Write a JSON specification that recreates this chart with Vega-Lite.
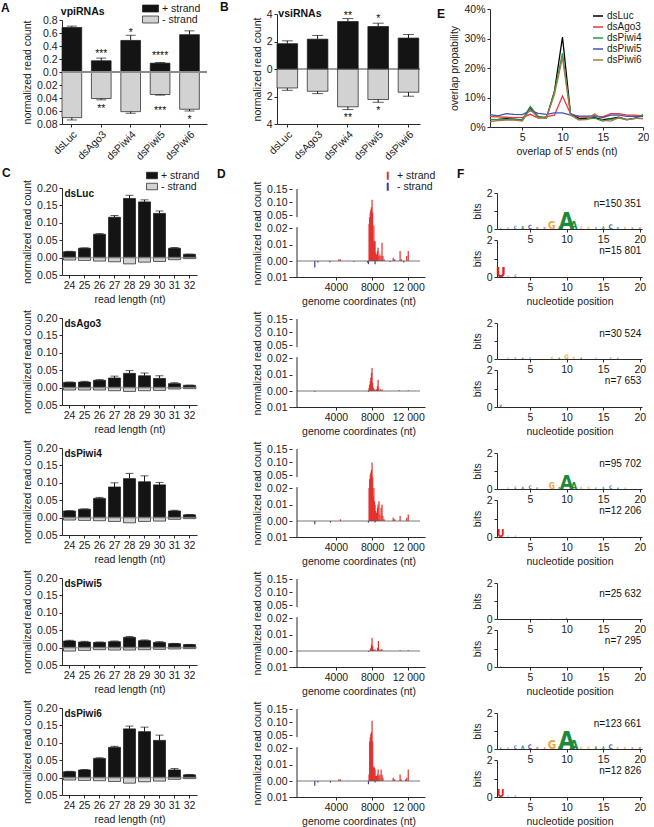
{
"$schema": "https://vega.github.io/schema/vega-lite/v6.json",
"padding": {"left": 1, "top": 1, "right": 0, "bottom": 0},
"background": "white",
"columns": 3,
"align": "each",
"bounds": "flush",
"spacing": {"row": 41, "column": 70},
"resolve": {"scale": {"color": "independent", "size": "independent"}, "legend": {"color": "independent", "size": "independent"}},
"datasets": {
"vpi": [
{"k":"dsLuc","s":"+ strand","v":0.685,"e":0.706},
{"k":"dsAgo3","s":"+ strand","v":0.173,"e":0.214},
{"k":"dsPiwi4","s":"+ strand","v":0.486,"e":0.565},
{"k":"dsPiwi5","s":"+ strand","v":0.136,"e":0.146},
{"k":"dsPiwi6","s":"+ strand","v":0.575,"e":0.633},
{"k":"dsLuc","s":"- strand","v":-0.0702,"e":-0.0738},
{"k":"dsAgo3","s":"- strand","v":-0.0408,"e":-0.0428},
{"k":"dsPiwi4","s":"- strand","v":-0.061,"e":-0.0635},
{"k":"dsPiwi5","s":"- strand","v":-0.0346,"e":-0.0356},
{"k":"dsPiwi6","s":"- strand","v":-0.0573,"e":-0.06}
],
"vpiStars": [
{"k":"dsAgo3","t":"***","y":0.33},
{"k":"dsPiwi4","t":"*","y":0.65},
{"k":"dsPiwi5","t":"****","y":0.30},
{"k":"dsAgo3","t":"**","y":-0.053},
{"k":"dsPiwi5","t":"***","y":-0.056},
{"k":"dsPiwi6","t":"*","y":-0.069}
],
"vsi": [
{"k":"dsLuc","s":"+ strand","v":1.84,"e":2.05},
{"k":"dsAgo3","s":"+ strand","v":2.17,"e":2.44},
{"k":"dsPiwi4","s":"+ strand","v":3.45,"e":3.67},
{"k":"dsPiwi5","s":"+ strand","v":3.09,"e":3.33},
{"k":"dsPiwi6","s":"+ strand","v":2.25,"e":2.51},
{"k":"dsLuc","s":"- strand","v":-1.38,"e":-1.55},
{"k":"dsAgo3","s":"- strand","v":-1.62,"e":-1.79},
{"k":"dsPiwi4","s":"- strand","v":-2.75,"e":-2.95},
{"k":"dsPiwi5","s":"- strand","v":-2.22,"e":-2.42},
{"k":"dsPiwi6","s":"- strand","v":-1.69,"e":-1.98}
],
"vsiStars": [
{"k":"dsPiwi4","t":"**","y":4.06},
{"k":"dsPiwi5","t":"*","y":3.82},
{"k":"dsPiwi4","t":"**","y":-3.31},
{"k":"dsPiwi5","t":"*","y":-2.83}
],
"ov": [
{"k":"dsLuc","x":1,"p":0.025},{"k":"dsLuc","x":2,"p":0.026},{"k":"dsLuc","x":3,"p":0.028},{"k":"dsLuc","x":4,"p":0.027},{"k":"dsLuc","x":5,"p":0.023},{"k":"dsLuc","x":6,"p":0.065},{"k":"dsLuc","x":7,"p":0.035},{"k":"dsLuc","x":8,"p":0.03},{"k":"dsLuc","x":9,"p":0.12},{"k":"dsLuc","x":10,"p":0.305},{"k":"dsLuc","x":11,"p":0.045},{"k":"dsLuc","x":12,"p":0.03},{"k":"dsLuc","x":13,"p":0.028},{"k":"dsLuc","x":14,"p":0.032},{"k":"dsLuc","x":15,"p":0.025},{"k":"dsLuc","x":16,"p":0.028},{"k":"dsLuc","x":17,"p":0.033},{"k":"dsLuc","x":18,"p":0.025},{"k":"dsLuc","x":19,"p":0.03},{"k":"dsLuc","x":20,"p":0.04},
{"k":"dsAgo3","x":1,"p":0.035},{"k":"dsAgo3","x":2,"p":0.034},{"k":"dsAgo3","x":3,"p":0.033},{"k":"dsAgo3","x":4,"p":0.032},{"k":"dsAgo3","x":5,"p":0.032},{"k":"dsAgo3","x":6,"p":0.043},{"k":"dsAgo3","x":7,"p":0.03},{"k":"dsAgo3","x":8,"p":0.035},{"k":"dsAgo3","x":9,"p":0.04},{"k":"dsAgo3","x":10,"p":0.105},{"k":"dsAgo3","x":11,"p":0.045},{"k":"dsAgo3","x":12,"p":0.035},{"k":"dsAgo3","x":13,"p":0.033},{"k":"dsAgo3","x":14,"p":0.038},{"k":"dsAgo3","x":15,"p":0.034},{"k":"dsAgo3","x":16,"p":0.045},{"k":"dsAgo3","x":17,"p":0.045},{"k":"dsAgo3","x":18,"p":0.04},{"k":"dsAgo3","x":19,"p":0.04},{"k":"dsAgo3","x":20,"p":0.038},
{"k":"dsPiwi4","x":1,"p":0.026},{"k":"dsPiwi4","x":2,"p":0.025},{"k":"dsPiwi4","x":3,"p":0.026},{"k":"dsPiwi4","x":4,"p":0.025},{"k":"dsPiwi4","x":5,"p":0.024},{"k":"dsPiwi4","x":6,"p":0.07},{"k":"dsPiwi4","x":7,"p":0.035},{"k":"dsPiwi4","x":8,"p":0.03},{"k":"dsPiwi4","x":9,"p":0.12},{"k":"dsPiwi4","x":10,"p":0.25},{"k":"dsPiwi4","x":11,"p":0.045},{"k":"dsPiwi4","x":12,"p":0.025},{"k":"dsPiwi4","x":13,"p":0.027},{"k":"dsPiwi4","x":14,"p":0.03},{"k":"dsPiwi4","x":15,"p":0.02},{"k":"dsPiwi4","x":16,"p":0.026},{"k":"dsPiwi4","x":17,"p":0.03},{"k":"dsPiwi4","x":18,"p":0.025},{"k":"dsPiwi4","x":19,"p":0.028},{"k":"dsPiwi4","x":20,"p":0.042},
{"k":"dsPiwi5","x":1,"p":0.042},{"k":"dsPiwi5","x":2,"p":0.038},{"k":"dsPiwi5","x":3,"p":0.045},{"k":"dsPiwi5","x":4,"p":0.043},{"k":"dsPiwi5","x":5,"p":0.042},{"k":"dsPiwi5","x":6,"p":0.055},{"k":"dsPiwi5","x":7,"p":0.046},{"k":"dsPiwi5","x":8,"p":0.043},{"k":"dsPiwi5","x":9,"p":0.048},{"k":"dsPiwi5","x":10,"p":0.048},{"k":"dsPiwi5","x":11,"p":0.04},{"k":"dsPiwi5","x":12,"p":0.038},{"k":"dsPiwi5","x":13,"p":0.037},{"k":"dsPiwi5","x":14,"p":0.038},{"k":"dsPiwi5","x":15,"p":0.032},{"k":"dsPiwi5","x":16,"p":0.04},{"k":"dsPiwi5","x":17,"p":0.04},{"k":"dsPiwi5","x":18,"p":0.036},{"k":"dsPiwi5","x":19,"p":0.036},{"k":"dsPiwi5","x":20,"p":0.035},
{"k":"dsPiwi6","x":1,"p":0.018},{"k":"dsPiwi6","x":2,"p":0.022},{"k":"dsPiwi6","x":3,"p":0.023},{"k":"dsPiwi6","x":4,"p":0.023},{"k":"dsPiwi6","x":5,"p":0.02},{"k":"dsPiwi6","x":6,"p":0.06},{"k":"dsPiwi6","x":7,"p":0.03},{"k":"dsPiwi6","x":8,"p":0.03},{"k":"dsPiwi6","x":9,"p":0.11},{"k":"dsPiwi6","x":10,"p":0.235},{"k":"dsPiwi6","x":11,"p":0.04},{"k":"dsPiwi6","x":12,"p":0.024},{"k":"dsPiwi6","x":13,"p":0.025},{"k":"dsPiwi6","x":14,"p":0.045},{"k":"dsPiwi6","x":15,"p":0.023},{"k":"dsPiwi6","x":16,"p":0.02},{"k":"dsPiwi6","x":17,"p":0.032},{"k":"dsPiwi6","x":18,"p":0.024},{"k":"dsPiwi6","x":19,"p":0.03},{"k":"dsPiwi6","x":20,"p":0.028}
],
"len": [
{"k":"dsLuc","l":24,"s":"+ strand","v":0.017,"e":0.018},{"k":"dsLuc","l":25,"s":"+ strand","v":0.027,"e":0.028},{"k":"dsLuc","l":26,"s":"+ strand","v":0.067,"e":0.069},{"k":"dsLuc","l":27,"s":"+ strand","v":0.116,"e":0.121},{"k":"dsLuc","l":28,"s":"+ strand","v":0.17,"e":0.179},{"k":"dsLuc","l":29,"s":"+ strand","v":0.16,"e":0.166},{"k":"dsLuc","l":30,"s":"+ strand","v":0.127,"e":0.134},{"k":"dsLuc","l":31,"s":"+ strand","v":0.027,"e":0.029},{"k":"dsLuc","l":32,"s":"+ strand","v":0.0095,"e":0.01},
{"k":"dsLuc","l":24,"s":"- strand","v":-0.007,"e":-0.007},{"k":"dsLuc","l":25,"s":"- strand","v":-0.008,"e":-0.008},{"k":"dsLuc","l":26,"s":"- strand","v":-0.01,"e":-0.01},{"k":"dsLuc","l":27,"s":"- strand","v":-0.012,"e":-0.012},{"k":"dsLuc","l":28,"s":"- strand","v":-0.018,"e":-0.018},{"k":"dsLuc","l":29,"s":"- strand","v":-0.013,"e":-0.013},{"k":"dsLuc","l":30,"s":"- strand","v":-0.011,"e":-0.011},{"k":"dsLuc","l":31,"s":"- strand","v":-0.006,"e":-0.006},{"k":"dsLuc","l":32,"s":"- strand","v":-0.003,"e":-0.003},
{"k":"dsAgo3","l":24,"s":"+ strand","v":0.015,"e":0.016},{"k":"dsAgo3","l":25,"s":"+ strand","v":0.016,"e":0.018},{"k":"dsAgo3","l":26,"s":"+ strand","v":0.021,"e":0.023},{"k":"dsAgo3","l":27,"s":"+ strand","v":0.0275,"e":0.033},{"k":"dsAgo3","l":28,"s":"+ strand","v":0.041,"e":0.049},{"k":"dsAgo3","l":29,"s":"+ strand","v":0.034,"e":0.042},{"k":"dsAgo3","l":30,"s":"+ strand","v":0.0265,"e":0.034},{"k":"dsAgo3","l":31,"s":"+ strand","v":0.0114,"e":0.014},{"k":"dsAgo3","l":32,"s":"+ strand","v":0.0066,"e":0.007},
{"k":"dsAgo3","l":24,"s":"- strand","v":-0.007,"e":-0.007},{"k":"dsAgo3","l":25,"s":"- strand","v":-0.007,"e":-0.007},{"k":"dsAgo3","l":26,"s":"- strand","v":-0.007,"e":-0.007},{"k":"dsAgo3","l":27,"s":"- strand","v":-0.009,"e":-0.009},{"k":"dsAgo3","l":28,"s":"- strand","v":-0.011,"e":-0.011},{"k":"dsAgo3","l":29,"s":"- strand","v":-0.009,"e":-0.009},{"k":"dsAgo3","l":30,"s":"- strand","v":-0.008,"e":-0.008},{"k":"dsAgo3","l":31,"s":"- strand","v":-0.004,"e":-0.004},{"k":"dsAgo3","l":32,"s":"- strand","v":-0.003,"e":-0.003},
{"k":"dsPiwi4","l":24,"s":"+ strand","v":0.019,"e":0.02},{"k":"dsPiwi4","l":25,"s":"+ strand","v":0.024,"e":0.025},{"k":"dsPiwi4","l":26,"s":"+ strand","v":0.055,"e":0.058},{"k":"dsPiwi4","l":27,"s":"+ strand","v":0.088,"e":0.1},{"k":"dsPiwi4","l":28,"s":"+ strand","v":0.112,"e":0.127},{"k":"dsPiwi4","l":29,"s":"+ strand","v":0.103,"e":0.12},{"k":"dsPiwi4","l":30,"s":"+ strand","v":0.094,"e":0.101},{"k":"dsPiwi4","l":31,"s":"+ strand","v":0.019,"e":0.021},{"k":"dsPiwi4","l":32,"s":"+ strand","v":0.008,"e":0.009},
{"k":"dsPiwi4","l":24,"s":"- strand","v":-0.007,"e":-0.007},{"k":"dsPiwi4","l":25,"s":"- strand","v":-0.008,"e":-0.008},{"k":"dsPiwi4","l":26,"s":"- strand","v":-0.009,"e":-0.009},{"k":"dsPiwi4","l":27,"s":"- strand","v":-0.011,"e":-0.011},{"k":"dsPiwi4","l":28,"s":"- strand","v":-0.015,"e":-0.015},{"k":"dsPiwi4","l":29,"s":"- strand","v":-0.011,"e":-0.011},{"k":"dsPiwi4","l":30,"s":"- strand","v":-0.01,"e":-0.01},{"k":"dsPiwi4","l":31,"s":"- strand","v":-0.005,"e":-0.005},{"k":"dsPiwi4","l":32,"s":"- strand","v":-0.003,"e":-0.003},
{"k":"dsPiwi5","l":24,"s":"+ strand","v":0.019,"e":0.021},{"k":"dsPiwi5","l":25,"s":"+ strand","v":0.016,"e":0.018},{"k":"dsPiwi5","l":26,"s":"+ strand","v":0.015,"e":0.016},{"k":"dsPiwi5","l":27,"s":"+ strand","v":0.017,"e":0.019},{"k":"dsPiwi5","l":28,"s":"+ strand","v":0.0295,"e":0.032},{"k":"dsPiwi5","l":29,"s":"+ strand","v":0.02,"e":0.022},{"k":"dsPiwi5","l":30,"s":"+ strand","v":0.015,"e":0.017},{"k":"dsPiwi5","l":31,"s":"+ strand","v":0.0114,"e":0.012},{"k":"dsPiwi5","l":32,"s":"+ strand","v":0.0086,"e":0.009},
{"k":"dsPiwi5","l":24,"s":"- strand","v":-0.01,"e":-0.01},{"k":"dsPiwi5","l":25,"s":"- strand","v":-0.008,"e":-0.008},{"k":"dsPiwi5","l":26,"s":"- strand","v":-0.006,"e":-0.006},{"k":"dsPiwi5","l":27,"s":"- strand","v":-0.007,"e":-0.007},{"k":"dsPiwi5","l":28,"s":"- strand","v":-0.007,"e":-0.007},{"k":"dsPiwi5","l":29,"s":"- strand","v":-0.006,"e":-0.006},{"k":"dsPiwi5","l":30,"s":"- strand","v":-0.005,"e":-0.005},{"k":"dsPiwi5","l":31,"s":"- strand","v":-0.004,"e":-0.004},{"k":"dsPiwi5","l":32,"s":"- strand","v":-0.003,"e":-0.003},
{"k":"dsPiwi6","l":24,"s":"+ strand","v":0.017,"e":0.018},{"k":"dsPiwi6","l":25,"s":"+ strand","v":0.022,"e":0.023},{"k":"dsPiwi6","l":26,"s":"+ strand","v":0.055,"e":0.057},{"k":"dsPiwi6","l":27,"s":"+ strand","v":0.087,"e":0.09},{"k":"dsPiwi6","l":28,"s":"+ strand","v":0.14,"e":0.148},{"k":"dsPiwi6","l":29,"s":"+ strand","v":0.132,"e":0.145},{"k":"dsPiwi6","l":30,"s":"+ strand","v":0.107,"e":0.122},{"k":"dsPiwi6","l":31,"s":"+ strand","v":0.022,"e":0.026},{"k":"dsPiwi6","l":32,"s":"+ strand","v":0.008,"e":0.009},
{"k":"dsPiwi6","l":24,"s":"- strand","v":-0.007,"e":-0.007},{"k":"dsPiwi6","l":25,"s":"- strand","v":-0.008,"e":-0.008},{"k":"dsPiwi6","l":26,"s":"- strand","v":-0.009,"e":-0.009},{"k":"dsPiwi6","l":27,"s":"- strand","v":-0.011,"e":-0.011},{"k":"dsPiwi6","l":28,"s":"- strand","v":-0.016,"e":-0.016},{"k":"dsPiwi6","l":29,"s":"- strand","v":-0.012,"e":-0.012},{"k":"dsPiwi6","l":30,"s":"- strand","v":-0.01,"e":-0.01},{"k":"dsPiwi6","l":31,"s":"- strand","v":-0.005,"e":-0.005},{"k":"dsPiwi6","l":32,"s":"- strand","v":-0.003,"e":-0.003}
],
"cov": [
{"k":"dsLuc","g":4333,"s":"+ strand","v":0.001},{"k":"dsLuc","g":4500,"s":"+ strand","v":0.001},{"k":"dsLuc","g":7667,"s":"+ strand","v":0.03},{"k":"dsLuc","g":7733,"s":"+ strand","v":0.045},{"k":"dsLuc","g":7800,"s":"+ strand","v":0.06},{"k":"dsLuc","g":7867,"s":"+ strand","v":0.07},{"k":"dsLuc","g":7933,"s":"+ strand","v":0.08},{"k":"dsLuc","g":8000,"s":"+ strand","v":0.109},{"k":"dsLuc","g":8067,"s":"+ strand","v":0.06},{"k":"dsLuc","g":8133,"s":"+ strand","v":0.012},{"k":"dsLuc","g":8200,"s":"+ strand","v":0.025},{"k":"dsLuc","g":8267,"s":"+ strand","v":0.012},{"k":"dsLuc","g":8333,"s":"+ strand","v":0.012},{"k":"dsLuc","g":8400,"s":"+ strand","v":0.005},{"k":"dsLuc","g":8500,"s":"+ strand","v":0.004},{"k":"dsLuc","g":8600,"s":"+ strand","v":0.006},{"k":"dsLuc","g":8667,"s":"+ strand","v":0.008},{"k":"dsLuc","g":8767,"s":"+ strand","v":0.003},{"k":"dsLuc","g":8867,"s":"+ strand","v":0.004},{"k":"dsLuc","g":9000,"s":"+ strand","v":0.003},{"k":"dsLuc","g":9100,"s":"+ strand","v":0.011},{"k":"dsLuc","g":9200,"s":"+ strand","v":0.003},{"k":"dsLuc","g":9333,"s":"+ strand","v":0.001},{"k":"dsLuc","g":10333,"s":"+ strand","v":0.002},{"k":"dsLuc","g":10500,"s":"+ strand","v":0.001},{"k":"dsLuc","g":11100,"s":"+ strand","v":0.006},{"k":"dsLuc","g":11233,"s":"+ strand","v":0.001},{"k":"dsLuc","g":11833,"s":"+ strand","v":0.003},{"k":"dsLuc","g":12000,"s":"+ strand","v":0.006},
{"k":"dsLuc","g":1667,"s":"- strand","v":-0.004},{"k":"dsLuc","g":2000,"s":"- strand","v":-0.001},{"k":"dsLuc","g":3333,"s":"- strand","v":-0.0008},{"k":"dsLuc","g":6000,"s":"- strand","v":-0.0005},{"k":"dsLuc","g":7500,"s":"- strand","v":-0.001},{"k":"dsLuc","g":7600,"s":"- strand","v":-0.002},{"k":"dsLuc","g":8333,"s":"- strand","v":-0.002},{"k":"dsLuc","g":10000,"s":"- strand","v":-0.0007},{"k":"dsLuc","g":11500,"s":"- strand","v":-0.001},
{"k":"dsAgo3","g":7667,"s":"+ strand","v":0.002},{"k":"dsAgo3","g":7733,"s":"+ strand","v":0.004},{"k":"dsAgo3","g":7800,"s":"+ strand","v":0.006},{"k":"dsAgo3","g":7867,"s":"+ strand","v":0.008},{"k":"dsAgo3","g":7933,"s":"+ strand","v":0.011},{"k":"dsAgo3","g":8000,"s":"+ strand","v":0.014},{"k":"dsAgo3","g":8067,"s":"+ strand","v":0.005},{"k":"dsAgo3","g":8133,"s":"+ strand","v":0.002},{"k":"dsAgo3","g":8200,"s":"+ strand","v":0.001},{"k":"dsAgo3","g":8333,"s":"+ strand","v":0.001},{"k":"dsAgo3","g":8500,"s":"+ strand","v":0.001},{"k":"dsAgo3","g":8600,"s":"+ strand","v":0.003},{"k":"dsAgo3","g":8667,"s":"+ strand","v":0.0068},{"k":"dsAgo3","g":8733,"s":"+ strand","v":0.002},{"k":"dsAgo3","g":8900,"s":"+ strand","v":0.001},{"k":"dsAgo3","g":9100,"s":"+ strand","v":0.001},{"k":"dsAgo3","g":11000,"s":"+ strand","v":0.0005},{"k":"dsAgo3","g":12000,"s":"+ strand","v":0.0005},
{"k":"dsAgo3","g":1667,"s":"- strand","v":-0.0005},{"k":"dsAgo3","g":7600,"s":"- strand","v":-0.0005},
{"k":"dsPiwi4","g":4500,"s":"+ strand","v":0.001},{"k":"dsPiwi4","g":7667,"s":"+ strand","v":0.02},{"k":"dsPiwi4","g":7733,"s":"+ strand","v":0.04},{"k":"dsPiwi4","g":7800,"s":"+ strand","v":0.05},{"k":"dsPiwi4","g":7867,"s":"+ strand","v":0.06},{"k":"dsPiwi4","g":7933,"s":"+ strand","v":0.07},{"k":"dsPiwi4","g":8000,"s":"+ strand","v":0.098},{"k":"dsPiwi4","g":8067,"s":"+ strand","v":0.045},{"k":"dsPiwi4","g":8133,"s":"+ strand","v":0.015},{"k":"dsPiwi4","g":8200,"s":"+ strand","v":0.02},{"k":"dsPiwi4","g":8267,"s":"+ strand","v":0.012},{"k":"dsPiwi4","g":8333,"s":"+ strand","v":0.01},{"k":"dsPiwi4","g":8400,"s":"+ strand","v":0.006},{"k":"dsPiwi4","g":8500,"s":"+ strand","v":0.005},{"k":"dsPiwi4","g":8600,"s":"+ strand","v":0.008},{"k":"dsPiwi4","g":8667,"s":"+ strand","v":0.01},{"k":"dsPiwi4","g":8767,"s":"+ strand","v":0.012},{"k":"dsPiwi4","g":8867,"s":"+ strand","v":0.004},{"k":"dsPiwi4","g":9000,"s":"+ strand","v":0.008},{"k":"dsPiwi4","g":9100,"s":"+ strand","v":0.01},{"k":"dsPiwi4","g":9200,"s":"+ strand","v":0.003},{"k":"dsPiwi4","g":9333,"s":"+ strand","v":0.001},{"k":"dsPiwi4","g":10333,"s":"+ strand","v":0.002},{"k":"dsPiwi4","g":10500,"s":"+ strand","v":0.001},{"k":"dsPiwi4","g":11100,"s":"+ strand","v":0.003},{"k":"dsPiwi4","g":11833,"s":"+ strand","v":0.002},{"k":"dsPiwi4","g":12000,"s":"+ strand","v":0.004},
{"k":"dsPiwi4","g":1667,"s":"- strand","v":-0.002},{"k":"dsPiwi4","g":3400,"s":"- strand","v":-0.001},{"k":"dsPiwi4","g":7600,"s":"- strand","v":-0.001},{"k":"dsPiwi4","g":8333,"s":"- strand","v":-0.001},
{"k":"dsPiwi5","g":7800,"s":"+ strand","v":0.001},{"k":"dsPiwi5","g":7867,"s":"+ strand","v":0.002},{"k":"dsPiwi5","g":7933,"s":"+ strand","v":0.004},{"k":"dsPiwi5","g":8000,"s":"+ strand","v":0.008},{"k":"dsPiwi5","g":8067,"s":"+ strand","v":0.003},{"k":"dsPiwi5","g":8133,"s":"+ strand","v":0.001},{"k":"dsPiwi5","g":8333,"s":"+ strand","v":0.001},{"k":"dsPiwi5","g":8600,"s":"+ strand","v":0.002},{"k":"dsPiwi5","g":8700,"s":"+ strand","v":0.006},{"k":"dsPiwi5","g":8767,"s":"+ strand","v":0.001},{"k":"dsPiwi5","g":9000,"s":"+ strand","v":0.001},{"k":"dsPiwi5","g":9100,"s":"+ strand","v":0.001},{"k":"dsPiwi5","g":11100,"s":"+ strand","v":0.0005},{"k":"dsPiwi5","g":12000,"s":"+ strand","v":0.0005},
{"k":"dsPiwi5","g":7600,"s":"- strand","v":-0.0005},
{"k":"dsPiwi6","g":4333,"s":"+ strand","v":0.001},{"k":"dsPiwi6","g":4500,"s":"+ strand","v":0.001},{"k":"dsPiwi6","g":7667,"s":"+ strand","v":0.004},{"k":"dsPiwi6","g":7733,"s":"+ strand","v":0.035},{"k":"dsPiwi6","g":7800,"s":"+ strand","v":0.045},{"k":"dsPiwi6","g":7867,"s":"+ strand","v":0.055},{"k":"dsPiwi6","g":7933,"s":"+ strand","v":0.06},{"k":"dsPiwi6","g":8000,"s":"+ strand","v":0.105},{"k":"dsPiwi6","g":8067,"s":"+ strand","v":0.035},{"k":"dsPiwi6","g":8133,"s":"+ strand","v":0.008},{"k":"dsPiwi6","g":8200,"s":"+ strand","v":0.009},{"k":"dsPiwi6","g":8267,"s":"+ strand","v":0.008},{"k":"dsPiwi6","g":8333,"s":"+ strand","v":0.007},{"k":"dsPiwi6","g":8400,"s":"+ strand","v":0.003},{"k":"dsPiwi6","g":8500,"s":"+ strand","v":0.003},{"k":"dsPiwi6","g":8600,"s":"+ strand","v":0.004},{"k":"dsPiwi6","g":8667,"s":"+ strand","v":0.007},{"k":"dsPiwi6","g":8767,"s":"+ strand","v":0.003},{"k":"dsPiwi6","g":8867,"s":"+ strand","v":0.004},{"k":"dsPiwi6","g":9000,"s":"+ strand","v":0.007},{"k":"dsPiwi6","g":9100,"s":"+ strand","v":0.004},{"k":"dsPiwi6","g":9200,"s":"+ strand","v":0.002},{"k":"dsPiwi6","g":10333,"s":"+ strand","v":0.002},{"k":"dsPiwi6","g":10500,"s":"+ strand","v":0.001},{"k":"dsPiwi6","g":11100,"s":"+ strand","v":0.004},{"k":"dsPiwi6","g":11200,"s":"+ strand","v":0.001},{"k":"dsPiwi6","g":11700,"s":"+ strand","v":0.001},{"k":"dsPiwi6","g":11833,"s":"+ strand","v":0.002},{"k":"dsPiwi6","g":12000,"s":"+ strand","v":0.007},
{"k":"dsPiwi6","g":1667,"s":"- strand","v":-0.003},{"k":"dsPiwi6","g":2000,"s":"- strand","v":-0.001},{"k":"dsPiwi6","g":3400,"s":"- strand","v":-0.001},{"k":"dsPiwi6","g":7600,"s":"- strand","v":-0.002},{"k":"dsPiwi6","g":8333,"s":"- strand","v":-0.001}
],
"logo": [
{"k":"dsLuc","p":"top","x":1,"nt":"U","b":0.03},{"k":"dsLuc","p":"top","x":2,"nt":"C","b":0.04},{"k":"dsLuc","p":"top","x":3,"nt":"C","b":0.09},{"k":"dsLuc","p":"top","x":4,"nt":"A","b":0.08},{"k":"dsLuc","p":"top","x":5,"nt":"C","b":0.13},{"k":"dsLuc","p":"top","x":6,"nt":"U","b":0.05},{"k":"dsLuc","p":"top","x":7,"nt":"U","b":0.05},{"k":"dsLuc","p":"top","x":8,"nt":"G","b":0.3},{"k":"dsLuc","p":"top","x":9,"nt":"A","b":0.07},{"k":"dsLuc","p":"top","x":10,"nt":"A","b":0.9},{"k":"dsLuc","p":"top","x":11,"nt":"A","b":0.3},{"k":"dsLuc","p":"top","x":12,"nt":"G","b":0.06},{"k":"dsLuc","p":"top","x":13,"nt":"G","b":0.06},{"k":"dsLuc","p":"top","x":14,"nt":"C","b":0.05},{"k":"dsLuc","p":"top","x":15,"nt":"A","b":0.07},{"k":"dsLuc","p":"top","x":16,"nt":"C","b":0.15},{"k":"dsLuc","p":"top","x":17,"nt":"A","b":0.05},{"k":"dsLuc","p":"top","x":18,"nt":"G","b":0.05},{"k":"dsLuc","p":"top","x":19,"nt":"U","b":0.04},{"k":"dsLuc","p":"top","x":20,"nt":"U","b":0.04},
{"k":"dsLuc","p":"bot","x":1,"nt":"U","b":0.45},{"k":"dsLuc","p":"bot","x":2,"nt":"G","b":0.04},{"k":"dsLuc","p":"bot","x":3,"nt":"C","b":0.06},
{"k":"dsAgo3","p":"top","x":2,"nt":"C","b":0.03},{"k":"dsAgo3","p":"top","x":3,"nt":"C","b":0.04},{"k":"dsAgo3","p":"top","x":4,"nt":"A","b":0.04},{"k":"dsAgo3","p":"top","x":5,"nt":"C","b":0.04},{"k":"dsAgo3","p":"top","x":8,"nt":"G","b":0.06},{"k":"dsAgo3","p":"top","x":9,"nt":"A","b":0.04},{"k":"dsAgo3","p":"top","x":10,"nt":"G","b":0.14},{"k":"dsAgo3","p":"top","x":11,"nt":"G","b":0.05},{"k":"dsAgo3","p":"top","x":12,"nt":"A","b":0.04},{"k":"dsAgo3","p":"top","x":14,"nt":"C","b":0.03},{"k":"dsAgo3","p":"top","x":16,"nt":"C","b":0.04},{"k":"dsAgo3","p":"top","x":17,"nt":"A","b":0.03},
{"k":"dsAgo3","p":"bot","x":1,"nt":"U","b":0.06},
{"k":"dsPiwi4","p":"top","x":2,"nt":"C","b":0.03},{"k":"dsPiwi4","p":"top","x":3,"nt":"C","b":0.06},{"k":"dsPiwi4","p":"top","x":4,"nt":"A","b":0.06},{"k":"dsPiwi4","p":"top","x":5,"nt":"C","b":0.1},{"k":"dsPiwi4","p":"top","x":6,"nt":"U","b":0.04},{"k":"dsPiwi4","p":"top","x":8,"nt":"G","b":0.22},{"k":"dsPiwi4","p":"top","x":9,"nt":"A","b":0.05},{"k":"dsPiwi4","p":"top","x":10,"nt":"A","b":0.75},{"k":"dsPiwi4","p":"top","x":11,"nt":"A","b":0.25},{"k":"dsPiwi4","p":"top","x":12,"nt":"G","b":0.05},{"k":"dsPiwi4","p":"top","x":13,"nt":"G","b":0.05},{"k":"dsPiwi4","p":"top","x":14,"nt":"C","b":0.04},{"k":"dsPiwi4","p":"top","x":15,"nt":"A","b":0.05},{"k":"dsPiwi4","p":"top","x":16,"nt":"C","b":0.1},{"k":"dsPiwi4","p":"top","x":17,"nt":"A","b":0.04},{"k":"dsPiwi4","p":"top","x":18,"nt":"G","b":0.04},
{"k":"dsPiwi4","p":"bot","x":1,"nt":"U","b":0.3},{"k":"dsPiwi4","p":"bot","x":2,"nt":"C","b":0.03},{"k":"dsPiwi4","p":"bot","x":3,"nt":"C","b":0.03},
{"k":"dsPiwi5","p":"top","x":8,"nt":"G","b":0.02},{"k":"dsPiwi5","p":"top","x":10,"nt":"A","b":0.03},
{"k":"dsPiwi5","p":"bot","x":1,"nt":"U","b":0.02},
{"k":"dsPiwi6","p":"top","x":1,"nt":"U","b":0.04},{"k":"dsPiwi6","p":"top","x":2,"nt":"C","b":0.04},{"k":"dsPiwi6","p":"top","x":3,"nt":"C","b":0.1},{"k":"dsPiwi6","p":"top","x":4,"nt":"A","b":0.1},{"k":"dsPiwi6","p":"top","x":5,"nt":"C","b":0.15},{"k":"dsPiwi6","p":"top","x":6,"nt":"U","b":0.05},{"k":"dsPiwi6","p":"top","x":7,"nt":"U","b":0.04},{"k":"dsPiwi6","p":"top","x":8,"nt":"G","b":0.35},{"k":"dsPiwi6","p":"top","x":9,"nt":"A","b":0.08},{"k":"dsPiwi6","p":"top","x":10,"nt":"A","b":1.0},{"k":"dsPiwi6","p":"top","x":11,"nt":"A","b":0.4},{"k":"dsPiwi6","p":"top","x":12,"nt":"G","b":0.06},{"k":"dsPiwi6","p":"top","x":13,"nt":"G","b":0.06},{"k":"dsPiwi6","p":"top","x":14,"nt":"A","b":0.07},{"k":"dsPiwi6","p":"top","x":15,"nt":"A","b":0.07},{"k":"dsPiwi6","p":"top","x":16,"nt":"C","b":0.15},{"k":"dsPiwi6","p":"top","x":17,"nt":"G","b":0.06},{"k":"dsPiwi6","p":"top","x":18,"nt":"G","b":0.05},{"k":"dsPiwi6","p":"top","x":19,"nt":"U","b":0.04},{"k":"dsPiwi6","p":"top","x":20,"nt":"U","b":0.05},
{"k":"dsPiwi6","p":"bot","x":1,"nt":"U","b":0.3},{"k":"dsPiwi6","p":"bot","x":2,"nt":"C","b":0.03},{"k":"dsPiwi6","p":"bot","x":3,"nt":"C","b":0.04}
]
},
"concat": [
{
 "width": 145, "height": 115,
 "title": {"text": "A", "dx": -61, "dy": 16},
 "layer": [
  {"data": {"name": "vpi"}, "mark": {"type": "bar", "stroke": "#1a1a1a", "strokeWidth": 0.7},
   "encoding": {
    "x": {"field": "k", "type": "nominal", "scale": {"domain": ["dsLuc","dsAgo3","dsPiwi4","dsPiwi5","dsPiwi6"], "paddingInner": 0.33, "paddingOuter": 0.13, "align": 0}, "axis": {"title": null, "labelAngle": -45}},
    "y": {"field": "v", "type": "quantitative", "scale": {"domain": [-0.08, 0, 0.8], "range": [115, 63, 11], "nice": false, "zero": false}, "axis": {"values": [-0.08,-0.06,-0.04,-0.02,0,0.2,0.4,0.6,0.8], "tickCount": 20, "labelExpr": "datum.value < 0 ? format(-datum.value, '.2f') : format(datum.value, '.1f')", "title": "normalized read count", "labelOverlap": false}},
    "color": {"field": "s", "type": "nominal", "scale": {"domain": ["+ strand", "- strand"], "range": ["#141414", "#d2d2d2"]},
      "legend": {"orient": "none", "legendX": 83, "legendY": -6, "title": null, "symbolType": "M-1.6,-0.7H1.6V0.7H-1.6Z", "symbolSize": 100, "symbolStrokeColor": "#1a1a1a", "symbolStrokeWidth": 0.7, "labelFontSize": 10.5, "labelOffset": 6, "rowPadding": -2}}
   }},
  {"data": {"name": "vpi"}, "mark": {"type": "rule", "color": "#1a1a1a", "strokeWidth": 1},
   "encoding": {"x": {"field": "k", "type": "nominal"}, "y": {"field": "v", "type": "quantitative"}, "y2": {"field": "e"}}},
  {"data": {"name": "vpi"}, "mark": {"type": "tick", "color": "#1a1a1a", "thickness": 1, "size": 10},
   "encoding": {"x": {"field": "k", "type": "nominal"}, "y": {"field": "e", "type": "quantitative"}}},
  {"data": {"values": [{}]}, "mark": {"type": "rule", "color": "#8c8c8c", "strokeWidth": 2}, "encoding": {"y": {"datum": 0}}},
  {"data": {"name": "vpiStars"}, "mark": {"type": "text", "fontSize": 10.5, "baseline": "middle", "dy": 3, "color": "#111111"},
   "encoding": {"x": {"field": "k", "type": "nominal"}, "y": {"field": "y", "type": "quantitative"}, "text": {"field": "t"}}},
  {"data": {"values": [{}]}, "mark": {"type": "text", "fontWeight": "bold", "fontSize": 10.5, "align": "left", "baseline": "middle", "dx": -11},
   "encoding": {"x": {"datum": "dsLuc"}, "y": {"datum": 0.92}, "text": {"value": "vpiRNAs"}}}
 ]
},
{
 "width": 143, "height": 115,
 "title": {"text": "B", "dx": -57, "dy": 9},
 "layer": [
  {"data": {"name": "vsi"}, "mark": {"type": "bar", "stroke": "#1a1a1a", "strokeWidth": 0.7},
   "encoding": {
    "x": {"field": "k", "type": "nominal", "scale": {"domain": ["dsLuc","dsAgo3","dsPiwi4","dsPiwi5","dsPiwi6"], "paddingInner": 0.32, "paddingOuter": 0.02, "align": 0}, "axis": {"title": null, "labelAngle": -45}},
    "y": {"field": "v", "type": "quantitative", "scale": {"domain": [-4, 4], "range": [115, 5], "nice": false, "zero": false}, "axis": {"values": [-4,-2,0,2,4], "tickCount": 20, "labelExpr": "format(abs(datum.value), 'd')", "title": "normalized read count", "labelOverlap": false}},
    "color": {"field": "s", "type": "nominal", "scale": {"domain": ["+ strand", "- strand"], "range": ["#141414", "#d2d2d2"]}, "legend": null}
   }},
  {"data": {"name": "vsi"}, "mark": {"type": "rule", "color": "#1a1a1a", "strokeWidth": 1},
   "encoding": {"x": {"field": "k", "type": "nominal"}, "y": {"field": "v", "type": "quantitative"}, "y2": {"field": "e"}}},
  {"data": {"name": "vsi"}, "mark": {"type": "tick", "color": "#1a1a1a", "thickness": 1, "size": 11},
   "encoding": {"x": {"field": "k", "type": "nominal"}, "y": {"field": "e", "type": "quantitative"}}},
  {"data": {"values": [{}]}, "mark": {"type": "rule", "color": "#444444", "strokeWidth": 1}, "encoding": {"y": {"datum": 0}}},
  {"data": {"name": "vsiStars"}, "mark": {"type": "text", "fontSize": 10.5, "baseline": "middle", "dy": 3, "color": "#111111"},
   "encoding": {"x": {"field": "k", "type": "nominal"}, "y": {"field": "y", "type": "quantitative"}, "text": {"field": "t"}}},
  {"data": {"values": [{}]}, "mark": {"type": "text", "fontWeight": "bold", "fontSize": 10.5, "align": "left", "baseline": "middle", "dx": -9},
   "encoding": {"x": {"datum": "dsLuc"}, "y": {"datum": 4}, "text": {"value": "vsiRNAs"}}}
 ]
},
{
 "width": 153, "height": 138,
 "title": {"text": "E", "dx": -53, "dy": 21},
 "data": {"name": "ov"},
 "mark": {"type": "line", "strokeWidth": 1.3},
 "encoding": {
  "x": {"field": "x", "type": "quantitative", "scale": {"domain": [1, 20], "nice": false, "zero": false}, "axis": {"values": [5, 10, 15, 20], "title": "overlap of 5' ends (nt)", "offset": -20, "labelOverlap": false}},
  "y": {"field": "p", "type": "quantitative", "scale": {"domain": [0, 0.4], "range": [118, 0], "nice": false}, "axis": {"values": [0, 0.1, 0.2, 0.3, 0.4], "tickCount": 20, "format": ".0%", "title": "overlap propability", "labelOverlap": false}},
  "color": {"field": "k", "type": "nominal", "scale": {"domain": ["dsLuc","dsAgo3","dsPiwi4","dsPiwi5","dsPiwi6"], "range": ["#000000","#ee3535","#1f9e48","#3f56b5","#a8784a"]},
    "legend": {"orient": "none", "legendX": 102, "legendY": 1, "title": null, "symbolType": "stroke", "symbolSize": 100, "symbolStrokeWidth": 1.5, "labelFontSize": 10, "labelOffset": 3, "rowPadding": -2.5}}
 }
},
{
 "width": 135, "height": 87,
 "title": {"text": "C", "dx": -60, "dy": 14},
 "layer": [
  {"data": {"name": "len"}, "transform": [{"filter": "datum.k == 'dsLuc'"}], "mark": {"type": "bar", "stroke": "#1a1a1a", "strokeWidth": 0.7},
   "encoding": {
    "x": {"field": "l", "type": "ordinal", "scale": {"paddingInner": 0.2, "paddingOuter": 0.1}, "axis": {"title": "read length (nt)", "labelAngle": 0}},
    "y": {"field": "v", "type": "quantitative", "scale": {"domain": [-0.05, 0.2], "nice": false, "zero": false}, "axis": {"values": [-0.05,0,0.05,0.1,0.15,0.2], "tickCount": 20, "labelExpr": "format(abs(datum.value), '.2f')", "title": "normalized read count", "labelOverlap": false}},
    "color": {"field": "s", "type": "nominal", "scale": {"domain": ["+ strand", "- strand"], "range": ["#141414", "#d2d2d2"]},
      "legend": {"orient": "none", "legendX": 84.5, "legendY": -18, "title": null, "symbolType": "M-1.1,-0.65H1.1V0.65H-1.1Z", "symbolSize": 100, "symbolStrokeColor": "#1a1a1a", "symbolStrokeWidth": 0.7, "labelFontSize": 10.5, "labelOffset": 3.5, "rowPadding": -3}}
   }},
  {"data": {"name": "len"}, "transform": [{"filter": "datum.k == 'dsLuc' && datum.s == '+ strand'"}], "mark": {"type": "tick", "color": "#8c8c8c", "thickness": 1.6, "size": 15},
   "encoding": {"x": {"field": "l", "type": "ordinal"}, "y": {"datum": 0}}},
  {"data": {"name": "len"}, "transform": [{"filter": "datum.k == 'dsLuc' && datum.s == '+ strand'"}], "mark": {"type": "rule", "color": "#1a1a1a", "strokeWidth": 1},
   "encoding": {"x": {"field": "l", "type": "ordinal"}, "y": {"field": "v", "type": "quantitative"}, "y2": {"field": "e"}}},
  {"data": {"name": "len"}, "transform": [{"filter": "datum.k == 'dsLuc' && datum.s == '+ strand'"}], "mark": {"type": "tick", "color": "#1a1a1a", "thickness": 1, "size": 8},
   "encoding": {"x": {"field": "l", "type": "ordinal"}, "y": {"field": "e", "type": "quantitative"}}},
  {"data": {"values": [{}]}, "mark": {"type": "text", "fontWeight": "bold", "fontSize": 10, "align": "left", "baseline": "middle", "dx": -5},
   "encoding": {"x": {"datum": 24, "type": "ordinal"}, "y": {"datum": 0.184}, "text": {"value": "dsLuc"}}}
 ]
},
{
 "width": 143, "height": 89,
 "title": {"text": "D", "dx": -60, "dy": 14},
 "layer": [
  {"data": {"name": "cov"}, "transform": [{"filter": "datum.k == 'dsLuc'"}], "mark": {"type": "bar", "width": 1.2},
   "encoding": {
    "x": {"field": "g", "type": "quantitative", "scale": {"domain": [-300, 13300], "range": [15, 148], "nice": false, "zero": false}, "axis": {"values": [4000, 8000, 12000], "labelExpr": "datum.value >= 10000 ? replace(format(datum.value, ','), ',', ' ') : format(datum.value, 'd')", "title": "genome coordinates (nt)", "labelOverlap": false}},
    "y": {"field": "v", "type": "quantitative", "scale": {"domain": [-0.01, 0, 0.02, 0.05, 0.15], "range": [89, 73, 40, 27, 1], "nice": false, "zero": false}, "axis": {"values": [-0.01, 0, 0.01, 0.02, 0.05, 0.1, 0.15], "tickCount": 20, "labelExpr": "format(abs(datum.value), '.2f')", "title": "normalized read count", "offset": -15, "labelOverlap": false, "domain": false}},
    "y2": {"datum": 0},
    "color": {"field": "s", "type": "nominal", "scale": {"domain": ["+ strand", "- strand"], "range": ["#e2312d", "#3a3f9c"]},
      "legend": {"orient": "none", "legendX": 105.5, "legendY": -17.5, "title": null, "symbolType": "M-0.2,-0.8H0.2V0.8H-0.2Z", "symbolSize": 100, "symbolStrokeWidth": 0, "labelFontSize": 10.5, "labelOffset": 4, "rowPadding": -3}}
   }},
  {"data": {"values": [{}]}, "mark": {"type": "rule", "color": "#555555", "strokeWidth": 0.8}, "encoding": {"x": {"datum": -300}, "x2": {"datum": 13300}, "y": {"datum": 0}}},
  {"data": {"values": [{}]}, "mark": {"type": "rule", "color": "#2a2a2a", "strokeWidth": 1}, "encoding": {"x": {"datum": -300}, "y": {"datum": -0.01}, "y2": {"datum": 0.022}}},
  {"data": {"values": [{}]}, "mark": {"type": "rule", "color": "#2a2a2a", "strokeWidth": 1}, "encoding": {"x": {"datum": -300}, "y": {"datum": 0.045}, "y2": {"datum": 0.15}}}
 ]
},
{
 "width": 145, "height": 89,
 "title": {"text": "F", "dx": -33, "dy": -3},
 "resolve": {"scale": {"x": "independent", "y": "independent"}},
 "layer": [
  {"layer": [
    {"data": {"name": "logo"}, "transform": [{"filter": "datum.k == 'dsLuc' && datum.p == 'top'"}], "mark": {"type": "text", "baseline": "alphabetic", "fontWeight": "bold", "font": "'Liberation Sans Narrow', 'DejaVu Sans Condensed', 'Liberation Sans'"},
     "encoding": {
      "x": {"field": "x", "type": "quantitative", "scale": {"domain": [0.5, 20.3], "range": [7, 152], "nice": false, "zero": false}, "axis": {"values": [5, 10, 15, 20], "title": null, "orient": "bottom", "offset": -48, "labelOverlap": false}},
      "y": {"datum": 0, "type": "quantitative", "scale": {"domain": [0, 2], "range": [41, 5], "nice": false, "zero": false}, "axis": {"values": [0, 1, 2], "tickCount": 20, "labelExpr": "datum.value == 1 ? '' : format(datum.value, 'd')", "title": "bits", "orient": "left", "offset": -7, "labelOverlap": false}},
      "text": {"field": "nt", "type": "nominal"},
      "size": {"field": "b", "type": "quantitative", "scale": {"type": "pow", "exponent": 0.7, "domain": [0, 1], "range": [0, 24]}, "legend": null},
      "color": {"field": "nt", "type": "nominal", "scale": {"domain": ["A","C","G","U"], "range": ["#1c8a3c","#4458b0","#f2a33a","#d9262b"]}, "legend": null}
     }},
    {"data": {"values": [{}]}, "mark": {"type": "text", "align": "right", "baseline": "middle", "fontSize": 10}, "encoding": {"x": {"datum": 20.2}, "y": {"datum": 1.4}, "text": {"value": "n=150 351"}}}
  ]},
  {"layer": [
    {"data": {"name": "logo"}, "transform": [{"filter": "datum.k == 'dsLuc' && datum.p == 'bot'"}], "mark": {"type": "text", "baseline": "alphabetic", "fontWeight": "bold", "font": "'Liberation Sans Narrow', 'DejaVu Sans Condensed', 'Liberation Sans'"},
     "encoding": {
      "x": {"field": "x", "type": "quantitative", "scale": {"domain": [0.5, 20.3], "range": [7, 152], "nice": false, "zero": false}, "axis": {"values": [5, 10, 15, 20], "title": "nucleotide position", "orient": "bottom", "labelOverlap": false}},
      "y": {"datum": 0, "type": "quantitative", "scale": {"domain": [0, 2], "range": [89, 52], "nice": false, "zero": false}, "axis": {"values": [0, 1, 2], "tickCount": 20, "labelExpr": "datum.value == 1 ? '' : format(datum.value, 'd')", "title": "bits", "orient": "left", "offset": -7, "labelOverlap": false}},
      "text": {"field": "nt", "type": "nominal"},
      "size": {"field": "b", "type": "quantitative", "scale": {"type": "pow", "exponent": 0.7, "domain": [0, 1], "range": [0, 24]}, "legend": null},
      "color": {"field": "nt", "type": "nominal", "scale": {"domain": ["A","C","G","U"], "range": ["#1c8a3c","#4458b0","#f2a33a","#d9262b"]}, "legend": null}
     }},
    {"data": {"values": [{}]}, "mark": {"type": "text", "align": "right", "baseline": "middle", "fontSize": 10}, "encoding": {"x": {"datum": 20.2}, "y": {"datum": 1.4}, "text": {"value": "n=15 801"}}}
  ]}
 ]
},
{
 "width": 135, "height": 87,
 "layer": [
  {"data": {"name": "len"}, "transform": [{"filter": "datum.k == 'dsAgo3'"}], "mark": {"type": "bar", "stroke": "#1a1a1a", "strokeWidth": 0.7},
   "encoding": {
    "x": {"field": "l", "type": "ordinal", "scale": {"paddingInner": 0.2, "paddingOuter": 0.1}, "axis": {"title": "read length (nt)", "labelAngle": 0}},
    "y": {"field": "v", "type": "quantitative", "scale": {"domain": [-0.05, 0.2], "nice": false, "zero": false}, "axis": {"values": [-0.05,0,0.05,0.1,0.15,0.2], "tickCount": 20, "labelExpr": "format(abs(datum.value), '.2f')", "title": "normalized read count", "labelOverlap": false}},
    "color": {"field": "s", "type": "nominal", "scale": {"domain": ["+ strand", "- strand"], "range": ["#141414", "#d2d2d2"]}, "legend": null}
   }},
  {"data": {"name": "len"}, "transform": [{"filter": "datum.k == 'dsAgo3' && datum.s == '+ strand'"}], "mark": {"type": "tick", "color": "#8c8c8c", "thickness": 1.6, "size": 15},
   "encoding": {"x": {"field": "l", "type": "ordinal"}, "y": {"datum": 0}}},
  {"data": {"name": "len"}, "transform": [{"filter": "datum.k == 'dsAgo3' && datum.s == '+ strand'"}], "mark": {"type": "rule", "color": "#1a1a1a", "strokeWidth": 1},
   "encoding": {"x": {"field": "l", "type": "ordinal"}, "y": {"field": "v", "type": "quantitative"}, "y2": {"field": "e"}}},
  {"data": {"name": "len"}, "transform": [{"filter": "datum.k == 'dsAgo3' && datum.s == '+ strand'"}], "mark": {"type": "tick", "color": "#1a1a1a", "thickness": 1, "size": 8},
   "encoding": {"x": {"field": "l", "type": "ordinal"}, "y": {"field": "e", "type": "quantitative"}}},
  {"data": {"values": [{}]}, "mark": {"type": "text", "fontWeight": "bold", "fontSize": 10, "align": "left", "baseline": "middle", "dx": -5},
   "encoding": {"x": {"datum": 24, "type": "ordinal"}, "y": {"datum": 0.184}, "text": {"value": "dsAgo3"}}}
 ]
},
{
 "width": 143, "height": 89,
 "layer": [
  {"data": {"name": "cov"}, "transform": [{"filter": "datum.k == 'dsAgo3'"}], "mark": {"type": "bar", "width": 1.2},
   "encoding": {
    "x": {"field": "g", "type": "quantitative", "scale": {"domain": [-300, 13300], "range": [15, 148], "nice": false, "zero": false}, "axis": {"values": [4000, 8000, 12000], "labelExpr": "datum.value >= 10000 ? replace(format(datum.value, ','), ',', ' ') : format(datum.value, 'd')", "title": "genome coordinates (nt)", "labelOverlap": false}},
    "y": {"field": "v", "type": "quantitative", "scale": {"domain": [-0.01, 0, 0.02, 0.05, 0.15], "range": [89, 73, 40, 27, 1], "nice": false, "zero": false}, "axis": {"values": [-0.01, 0, 0.01, 0.02, 0.05, 0.1, 0.15], "tickCount": 20, "labelExpr": "format(abs(datum.value), '.2f')", "title": "normalized read count", "offset": -15, "labelOverlap": false, "domain": false}},
    "y2": {"datum": 0},
    "color": {"field": "s", "type": "nominal", "scale": {"domain": ["+ strand", "- strand"], "range": ["#e2312d", "#3a3f9c"]}, "legend": null}
   }},
  {"data": {"values": [{}]}, "mark": {"type": "rule", "color": "#555555", "strokeWidth": 0.8}, "encoding": {"x": {"datum": -300}, "x2": {"datum": 13300}, "y": {"datum": 0}}},
  {"data": {"values": [{}]}, "mark": {"type": "rule", "color": "#2a2a2a", "strokeWidth": 1}, "encoding": {"x": {"datum": -300}, "y": {"datum": -0.01}, "y2": {"datum": 0.022}}},
  {"data": {"values": [{}]}, "mark": {"type": "rule", "color": "#2a2a2a", "strokeWidth": 1}, "encoding": {"x": {"datum": -300}, "y": {"datum": 0.045}, "y2": {"datum": 0.15}}}
 ]
},
{
 "width": 145, "height": 89,
 "resolve": {"scale": {"x": "independent", "y": "independent"}},
 "layer": [
  {"layer": [
    {"data": {"name": "logo"}, "transform": [{"filter": "datum.k == 'dsAgo3' && datum.p == 'top'"}], "mark": {"type": "text", "baseline": "alphabetic", "fontWeight": "bold", "font": "'Liberation Sans Narrow', 'DejaVu Sans Condensed', 'Liberation Sans'"},
     "encoding": {
      "x": {"field": "x", "type": "quantitative", "scale": {"domain": [0.5, 20.3], "range": [7, 152], "nice": false, "zero": false}, "axis": {"values": [5, 10, 15, 20], "title": null, "orient": "bottom", "offset": -48, "labelOverlap": false}},
      "y": {"datum": 0, "type": "quantitative", "scale": {"domain": [0, 2], "range": [41, 5], "nice": false, "zero": false}, "axis": {"values": [0, 1, 2], "tickCount": 20, "labelExpr": "datum.value == 1 ? '' : format(datum.value, 'd')", "title": "bits", "orient": "left", "offset": -7, "labelOverlap": false}},
      "text": {"field": "nt", "type": "nominal"},
      "size": {"field": "b", "type": "quantitative", "scale": {"type": "pow", "exponent": 0.7, "domain": [0, 1], "range": [0, 24]}, "legend": null},
      "color": {"field": "nt", "type": "nominal", "scale": {"domain": ["A","C","G","U"], "range": ["#1c8a3c","#4458b0","#f2a33a","#d9262b"]}, "legend": null}
     }},
    {"data": {"values": [{}]}, "mark": {"type": "text", "align": "right", "baseline": "middle", "fontSize": 10}, "encoding": {"x": {"datum": 20.2}, "y": {"datum": 1.4}, "text": {"value": "n=30 524"}}}
  ]},
  {"layer": [
    {"data": {"name": "logo"}, "transform": [{"filter": "datum.k == 'dsAgo3' && datum.p == 'bot'"}], "mark": {"type": "text", "baseline": "alphabetic", "fontWeight": "bold", "font": "'Liberation Sans Narrow', 'DejaVu Sans Condensed', 'Liberation Sans'"},
     "encoding": {
      "x": {"field": "x", "type": "quantitative", "scale": {"domain": [0.5, 20.3], "range": [7, 152], "nice": false, "zero": false}, "axis": {"values": [5, 10, 15, 20], "title": "nucleotide position", "orient": "bottom", "labelOverlap": false}},
      "y": {"datum": 0, "type": "quantitative", "scale": {"domain": [0, 2], "range": [89, 52], "nice": false, "zero": false}, "axis": {"values": [0, 1, 2], "tickCount": 20, "labelExpr": "datum.value == 1 ? '' : format(datum.value, 'd')", "title": "bits", "orient": "left", "offset": -7, "labelOverlap": false}},
      "text": {"field": "nt", "type": "nominal"},
      "size": {"field": "b", "type": "quantitative", "scale": {"type": "pow", "exponent": 0.7, "domain": [0, 1], "range": [0, 24]}, "legend": null},
      "color": {"field": "nt", "type": "nominal", "scale": {"domain": ["A","C","G","U"], "range": ["#1c8a3c","#4458b0","#f2a33a","#d9262b"]}, "legend": null}
     }},
    {"data": {"values": [{}]}, "mark": {"type": "text", "align": "right", "baseline": "middle", "fontSize": 10}, "encoding": {"x": {"datum": 20.2}, "y": {"datum": 1.4}, "text": {"value": "n=7 653"}}}
  ]}
 ]
},
{
 "width": 135, "height": 87,
 "layer": [
  {"data": {"name": "len"}, "transform": [{"filter": "datum.k == 'dsPiwi4'"}], "mark": {"type": "bar", "stroke": "#1a1a1a", "strokeWidth": 0.7},
   "encoding": {
    "x": {"field": "l", "type": "ordinal", "scale": {"paddingInner": 0.2, "paddingOuter": 0.1}, "axis": {"title": "read length (nt)", "labelAngle": 0}},
    "y": {"field": "v", "type": "quantitative", "scale": {"domain": [-0.05, 0.2], "nice": false, "zero": false}, "axis": {"values": [-0.05,0,0.05,0.1,0.15,0.2], "tickCount": 20, "labelExpr": "format(abs(datum.value), '.2f')", "title": "normalized read count", "labelOverlap": false}},
    "color": {"field": "s", "type": "nominal", "scale": {"domain": ["+ strand", "- strand"], "range": ["#141414", "#d2d2d2"]}, "legend": null}
   }},
  {"data": {"name": "len"}, "transform": [{"filter": "datum.k == 'dsPiwi4' && datum.s == '+ strand'"}], "mark": {"type": "tick", "color": "#8c8c8c", "thickness": 1.6, "size": 15},
   "encoding": {"x": {"field": "l", "type": "ordinal"}, "y": {"datum": 0}}},
  {"data": {"name": "len"}, "transform": [{"filter": "datum.k == 'dsPiwi4' && datum.s == '+ strand'"}], "mark": {"type": "rule", "color": "#1a1a1a", "strokeWidth": 1},
   "encoding": {"x": {"field": "l", "type": "ordinal"}, "y": {"field": "v", "type": "quantitative"}, "y2": {"field": "e"}}},
  {"data": {"name": "len"}, "transform": [{"filter": "datum.k == 'dsPiwi4' && datum.s == '+ strand'"}], "mark": {"type": "tick", "color": "#1a1a1a", "thickness": 1, "size": 8},
   "encoding": {"x": {"field": "l", "type": "ordinal"}, "y": {"field": "e", "type": "quantitative"}}},
  {"data": {"values": [{}]}, "mark": {"type": "text", "fontWeight": "bold", "fontSize": 10, "align": "left", "baseline": "middle", "dx": -5},
   "encoding": {"x": {"datum": 24, "type": "ordinal"}, "y": {"datum": 0.184}, "text": {"value": "dsPiwi4"}}}
 ]
},
{
 "width": 143, "height": 89,
 "layer": [
  {"data": {"name": "cov"}, "transform": [{"filter": "datum.k == 'dsPiwi4'"}], "mark": {"type": "bar", "width": 1.2},
   "encoding": {
    "x": {"field": "g", "type": "quantitative", "scale": {"domain": [-300, 13300], "range": [15, 148], "nice": false, "zero": false}, "axis": {"values": [4000, 8000, 12000], "labelExpr": "datum.value >= 10000 ? replace(format(datum.value, ','), ',', ' ') : format(datum.value, 'd')", "title": "genome coordinates (nt)", "labelOverlap": false}},
    "y": {"field": "v", "type": "quantitative", "scale": {"domain": [-0.01, 0, 0.02, 0.05, 0.15], "range": [89, 73, 40, 27, 1], "nice": false, "zero": false}, "axis": {"values": [-0.01, 0, 0.01, 0.02, 0.05, 0.1, 0.15], "tickCount": 20, "labelExpr": "format(abs(datum.value), '.2f')", "title": "normalized read count", "offset": -15, "labelOverlap": false, "domain": false}},
    "y2": {"datum": 0},
    "color": {"field": "s", "type": "nominal", "scale": {"domain": ["+ strand", "- strand"], "range": ["#e2312d", "#3a3f9c"]}, "legend": null}
   }},
  {"data": {"values": [{}]}, "mark": {"type": "rule", "color": "#555555", "strokeWidth": 0.8}, "encoding": {"x": {"datum": -300}, "x2": {"datum": 13300}, "y": {"datum": 0}}},
  {"data": {"values": [{}]}, "mark": {"type": "rule", "color": "#2a2a2a", "strokeWidth": 1}, "encoding": {"x": {"datum": -300}, "y": {"datum": -0.01}, "y2": {"datum": 0.022}}},
  {"data": {"values": [{}]}, "mark": {"type": "rule", "color": "#2a2a2a", "strokeWidth": 1}, "encoding": {"x": {"datum": -300}, "y": {"datum": 0.045}, "y2": {"datum": 0.15}}}
 ]
},
{
 "width": 145, "height": 89,
 "resolve": {"scale": {"x": "independent", "y": "independent"}},
 "layer": [
  {"layer": [
    {"data": {"name": "logo"}, "transform": [{"filter": "datum.k == 'dsPiwi4' && datum.p == 'top'"}], "mark": {"type": "text", "baseline": "alphabetic", "fontWeight": "bold", "font": "'Liberation Sans Narrow', 'DejaVu Sans Condensed', 'Liberation Sans'"},
     "encoding": {
      "x": {"field": "x", "type": "quantitative", "scale": {"domain": [0.5, 20.3], "range": [7, 152], "nice": false, "zero": false}, "axis": {"values": [5, 10, 15, 20], "title": null, "orient": "bottom", "offset": -48, "labelOverlap": false}},
      "y": {"datum": 0, "type": "quantitative", "scale": {"domain": [0, 2], "range": [41, 5], "nice": false, "zero": false}, "axis": {"values": [0, 1, 2], "tickCount": 20, "labelExpr": "datum.value == 1 ? '' : format(datum.value, 'd')", "title": "bits", "orient": "left", "offset": -7, "labelOverlap": false}},
      "text": {"field": "nt", "type": "nominal"},
      "size": {"field": "b", "type": "quantitative", "scale": {"type": "pow", "exponent": 0.7, "domain": [0, 1], "range": [0, 24]}, "legend": null},
      "color": {"field": "nt", "type": "nominal", "scale": {"domain": ["A","C","G","U"], "range": ["#1c8a3c","#4458b0","#f2a33a","#d9262b"]}, "legend": null}
     }},
    {"data": {"values": [{}]}, "mark": {"type": "text", "align": "right", "baseline": "middle", "fontSize": 10}, "encoding": {"x": {"datum": 20.2}, "y": {"datum": 1.4}, "text": {"value": "n=95 702"}}}
  ]},
  {"layer": [
    {"data": {"name": "logo"}, "transform": [{"filter": "datum.k == 'dsPiwi4' && datum.p == 'bot'"}], "mark": {"type": "text", "baseline": "alphabetic", "fontWeight": "bold", "font": "'Liberation Sans Narrow', 'DejaVu Sans Condensed', 'Liberation Sans'"},
     "encoding": {
      "x": {"field": "x", "type": "quantitative", "scale": {"domain": [0.5, 20.3], "range": [7, 152], "nice": false, "zero": false}, "axis": {"values": [5, 10, 15, 20], "title": "nucleotide position", "orient": "bottom", "labelOverlap": false}},
      "y": {"datum": 0, "type": "quantitative", "scale": {"domain": [0, 2], "range": [89, 52], "nice": false, "zero": false}, "axis": {"values": [0, 1, 2], "tickCount": 20, "labelExpr": "datum.value == 1 ? '' : format(datum.value, 'd')", "title": "bits", "orient": "left", "offset": -7, "labelOverlap": false}},
      "text": {"field": "nt", "type": "nominal"},
      "size": {"field": "b", "type": "quantitative", "scale": {"type": "pow", "exponent": 0.7, "domain": [0, 1], "range": [0, 24]}, "legend": null},
      "color": {"field": "nt", "type": "nominal", "scale": {"domain": ["A","C","G","U"], "range": ["#1c8a3c","#4458b0","#f2a33a","#d9262b"]}, "legend": null}
     }},
    {"data": {"values": [{}]}, "mark": {"type": "text", "align": "right", "baseline": "middle", "fontSize": 10}, "encoding": {"x": {"datum": 20.2}, "y": {"datum": 1.4}, "text": {"value": "n=12 206"}}}
  ]}
 ]
},
{
 "width": 135, "height": 87,
 "layer": [
  {"data": {"name": "len"}, "transform": [{"filter": "datum.k == 'dsPiwi5'"}], "mark": {"type": "bar", "stroke": "#1a1a1a", "strokeWidth": 0.7},
   "encoding": {
    "x": {"field": "l", "type": "ordinal", "scale": {"paddingInner": 0.2, "paddingOuter": 0.1}, "axis": {"title": "read length (nt)", "labelAngle": 0}},
    "y": {"field": "v", "type": "quantitative", "scale": {"domain": [-0.05, 0.2], "nice": false, "zero": false}, "axis": {"values": [-0.05,0,0.05,0.1,0.15,0.2], "tickCount": 20, "labelExpr": "format(abs(datum.value), '.2f')", "title": "normalized read count", "labelOverlap": false}},
    "color": {"field": "s", "type": "nominal", "scale": {"domain": ["+ strand", "- strand"], "range": ["#141414", "#d2d2d2"]}, "legend": null}
   }},
  {"data": {"name": "len"}, "transform": [{"filter": "datum.k == 'dsPiwi5' && datum.s == '+ strand'"}], "mark": {"type": "tick", "color": "#8c8c8c", "thickness": 1.6, "size": 15},
   "encoding": {"x": {"field": "l", "type": "ordinal"}, "y": {"datum": 0}}},
  {"data": {"name": "len"}, "transform": [{"filter": "datum.k == 'dsPiwi5' && datum.s == '+ strand'"}], "mark": {"type": "rule", "color": "#1a1a1a", "strokeWidth": 1},
   "encoding": {"x": {"field": "l", "type": "ordinal"}, "y": {"field": "v", "type": "quantitative"}, "y2": {"field": "e"}}},
  {"data": {"name": "len"}, "transform": [{"filter": "datum.k == 'dsPiwi5' && datum.s == '+ strand'"}], "mark": {"type": "tick", "color": "#1a1a1a", "thickness": 1, "size": 8},
   "encoding": {"x": {"field": "l", "type": "ordinal"}, "y": {"field": "e", "type": "quantitative"}}},
  {"data": {"values": [{}]}, "mark": {"type": "text", "fontWeight": "bold", "fontSize": 10, "align": "left", "baseline": "middle", "dx": -5},
   "encoding": {"x": {"datum": 24, "type": "ordinal"}, "y": {"datum": 0.184}, "text": {"value": "dsPiwi5"}}}
 ]
},
{
 "width": 143, "height": 89,
 "layer": [
  {"data": {"name": "cov"}, "transform": [{"filter": "datum.k == 'dsPiwi5'"}], "mark": {"type": "bar", "width": 1.2},
   "encoding": {
    "x": {"field": "g", "type": "quantitative", "scale": {"domain": [-300, 13300], "range": [15, 148], "nice": false, "zero": false}, "axis": {"values": [4000, 8000, 12000], "labelExpr": "datum.value >= 10000 ? replace(format(datum.value, ','), ',', ' ') : format(datum.value, 'd')", "title": "genome coordinates (nt)", "labelOverlap": false}},
    "y": {"field": "v", "type": "quantitative", "scale": {"domain": [-0.01, 0, 0.02, 0.05, 0.15], "range": [89, 73, 40, 27, 1], "nice": false, "zero": false}, "axis": {"values": [-0.01, 0, 0.01, 0.02, 0.05, 0.1, 0.15], "tickCount": 20, "labelExpr": "format(abs(datum.value), '.2f')", "title": "normalized read count", "offset": -15, "labelOverlap": false, "domain": false}},
    "y2": {"datum": 0},
    "color": {"field": "s", "type": "nominal", "scale": {"domain": ["+ strand", "- strand"], "range": ["#e2312d", "#3a3f9c"]}, "legend": null}
   }},
  {"data": {"values": [{}]}, "mark": {"type": "rule", "color": "#555555", "strokeWidth": 0.8}, "encoding": {"x": {"datum": -300}, "x2": {"datum": 13300}, "y": {"datum": 0}}},
  {"data": {"values": [{}]}, "mark": {"type": "rule", "color": "#2a2a2a", "strokeWidth": 1}, "encoding": {"x": {"datum": -300}, "y": {"datum": -0.01}, "y2": {"datum": 0.022}}},
  {"data": {"values": [{}]}, "mark": {"type": "rule", "color": "#2a2a2a", "strokeWidth": 1}, "encoding": {"x": {"datum": -300}, "y": {"datum": 0.045}, "y2": {"datum": 0.15}}}
 ]
},
{
 "width": 145, "height": 89,
 "resolve": {"scale": {"x": "independent", "y": "independent"}},
 "layer": [
  {"layer": [
    {"data": {"name": "logo"}, "transform": [{"filter": "datum.k == 'dsPiwi5' && datum.p == 'top'"}], "mark": {"type": "text", "baseline": "alphabetic", "fontWeight": "bold", "font": "'Liberation Sans Narrow', 'DejaVu Sans Condensed', 'Liberation Sans'"},
     "encoding": {
      "x": {"field": "x", "type": "quantitative", "scale": {"domain": [0.5, 20.3], "range": [7, 152], "nice": false, "zero": false}, "axis": {"values": [5, 10, 15, 20], "title": null, "orient": "bottom", "offset": -48, "labelOverlap": false}},
      "y": {"datum": 0, "type": "quantitative", "scale": {"domain": [0, 2], "range": [41, 5], "nice": false, "zero": false}, "axis": {"values": [0, 1, 2], "tickCount": 20, "labelExpr": "datum.value == 1 ? '' : format(datum.value, 'd')", "title": "bits", "orient": "left", "offset": -7, "labelOverlap": false}},
      "text": {"field": "nt", "type": "nominal"},
      "size": {"field": "b", "type": "quantitative", "scale": {"type": "pow", "exponent": 0.7, "domain": [0, 1], "range": [0, 24]}, "legend": null},
      "color": {"field": "nt", "type": "nominal", "scale": {"domain": ["A","C","G","U"], "range": ["#1c8a3c","#4458b0","#f2a33a","#d9262b"]}, "legend": null}
     }},
    {"data": {"values": [{}]}, "mark": {"type": "text", "align": "right", "baseline": "middle", "fontSize": 10}, "encoding": {"x": {"datum": 20.2}, "y": {"datum": 1.4}, "text": {"value": "n=25 632"}}}
  ]},
  {"layer": [
    {"data": {"name": "logo"}, "transform": [{"filter": "datum.k == 'dsPiwi5' && datum.p == 'bot'"}], "mark": {"type": "text", "baseline": "alphabetic", "fontWeight": "bold", "font": "'Liberation Sans Narrow', 'DejaVu Sans Condensed', 'Liberation Sans'"},
     "encoding": {
      "x": {"field": "x", "type": "quantitative", "scale": {"domain": [0.5, 20.3], "range": [7, 152], "nice": false, "zero": false}, "axis": {"values": [5, 10, 15, 20], "title": "nucleotide position", "orient": "bottom", "labelOverlap": false}},
      "y": {"datum": 0, "type": "quantitative", "scale": {"domain": [0, 2], "range": [89, 52], "nice": false, "zero": false}, "axis": {"values": [0, 1, 2], "tickCount": 20, "labelExpr": "datum.value == 1 ? '' : format(datum.value, 'd')", "title": "bits", "orient": "left", "offset": -7, "labelOverlap": false}},
      "text": {"field": "nt", "type": "nominal"},
      "size": {"field": "b", "type": "quantitative", "scale": {"type": "pow", "exponent": 0.7, "domain": [0, 1], "range": [0, 24]}, "legend": null},
      "color": {"field": "nt", "type": "nominal", "scale": {"domain": ["A","C","G","U"], "range": ["#1c8a3c","#4458b0","#f2a33a","#d9262b"]}, "legend": null}
     }},
    {"data": {"values": [{}]}, "mark": {"type": "text", "align": "right", "baseline": "middle", "fontSize": 10}, "encoding": {"x": {"datum": 20.2}, "y": {"datum": 1.4}, "text": {"value": "n=7 295"}}}
  ]}
 ]
},
{
 "width": 135, "height": 87,
 "layer": [
  {"data": {"name": "len"}, "transform": [{"filter": "datum.k == 'dsPiwi6'"}], "mark": {"type": "bar", "stroke": "#1a1a1a", "strokeWidth": 0.7},
   "encoding": {
    "x": {"field": "l", "type": "ordinal", "scale": {"paddingInner": 0.2, "paddingOuter": 0.1}, "axis": {"title": "read length (nt)", "labelAngle": 0}},
    "y": {"field": "v", "type": "quantitative", "scale": {"domain": [-0.05, 0.2], "nice": false, "zero": false}, "axis": {"values": [-0.05,0,0.05,0.1,0.15,0.2], "tickCount": 20, "labelExpr": "format(abs(datum.value), '.2f')", "title": "normalized read count", "labelOverlap": false}},
    "color": {"field": "s", "type": "nominal", "scale": {"domain": ["+ strand", "- strand"], "range": ["#141414", "#d2d2d2"]}, "legend": null}
   }},
  {"data": {"name": "len"}, "transform": [{"filter": "datum.k == 'dsPiwi6' && datum.s == '+ strand'"}], "mark": {"type": "tick", "color": "#8c8c8c", "thickness": 1.6, "size": 15},
   "encoding": {"x": {"field": "l", "type": "ordinal"}, "y": {"datum": 0}}},
  {"data": {"name": "len"}, "transform": [{"filter": "datum.k == 'dsPiwi6' && datum.s == '+ strand'"}], "mark": {"type": "rule", "color": "#1a1a1a", "strokeWidth": 1},
   "encoding": {"x": {"field": "l", "type": "ordinal"}, "y": {"field": "v", "type": "quantitative"}, "y2": {"field": "e"}}},
  {"data": {"name": "len"}, "transform": [{"filter": "datum.k == 'dsPiwi6' && datum.s == '+ strand'"}], "mark": {"type": "tick", "color": "#1a1a1a", "thickness": 1, "size": 8},
   "encoding": {"x": {"field": "l", "type": "ordinal"}, "y": {"field": "e", "type": "quantitative"}}},
  {"data": {"values": [{}]}, "mark": {"type": "text", "fontWeight": "bold", "fontSize": 10, "align": "left", "baseline": "middle", "dx": -5},
   "encoding": {"x": {"datum": 24, "type": "ordinal"}, "y": {"datum": 0.184}, "text": {"value": "dsPiwi6"}}}
 ]
},
{
 "width": 143, "height": 89,
 "layer": [
  {"data": {"name": "cov"}, "transform": [{"filter": "datum.k == 'dsPiwi6'"}], "mark": {"type": "bar", "width": 1.2},
   "encoding": {
    "x": {"field": "g", "type": "quantitative", "scale": {"domain": [-300, 13300], "range": [15, 148], "nice": false, "zero": false}, "axis": {"values": [4000, 8000, 12000], "labelExpr": "datum.value >= 10000 ? replace(format(datum.value, ','), ',', ' ') : format(datum.value, 'd')", "title": "genome coordinates (nt)", "labelOverlap": false}},
    "y": {"field": "v", "type": "quantitative", "scale": {"domain": [-0.01, 0, 0.02, 0.05, 0.15], "range": [89, 73, 40, 27, 1], "nice": false, "zero": false}, "axis": {"values": [-0.01, 0, 0.01, 0.02, 0.05, 0.1, 0.15], "tickCount": 20, "labelExpr": "format(abs(datum.value), '.2f')", "title": "normalized read count", "offset": -15, "labelOverlap": false, "domain": false}},
    "y2": {"datum": 0},
    "color": {"field": "s", "type": "nominal", "scale": {"domain": ["+ strand", "- strand"], "range": ["#e2312d", "#3a3f9c"]}, "legend": null}
   }},
  {"data": {"values": [{}]}, "mark": {"type": "rule", "color": "#555555", "strokeWidth": 0.8}, "encoding": {"x": {"datum": -300}, "x2": {"datum": 13300}, "y": {"datum": 0}}},
  {"data": {"values": [{}]}, "mark": {"type": "rule", "color": "#2a2a2a", "strokeWidth": 1}, "encoding": {"x": {"datum": -300}, "y": {"datum": -0.01}, "y2": {"datum": 0.022}}},
  {"data": {"values": [{}]}, "mark": {"type": "rule", "color": "#2a2a2a", "strokeWidth": 1}, "encoding": {"x": {"datum": -300}, "y": {"datum": 0.045}, "y2": {"datum": 0.15}}}
 ]
},
{
 "width": 145, "height": 89,
 "resolve": {"scale": {"x": "independent", "y": "independent"}},
 "layer": [
  {"layer": [
    {"data": {"name": "logo"}, "transform": [{"filter": "datum.k == 'dsPiwi6' && datum.p == 'top'"}], "mark": {"type": "text", "baseline": "alphabetic", "fontWeight": "bold", "font": "'Liberation Sans Narrow', 'DejaVu Sans Condensed', 'Liberation Sans'"},
     "encoding": {
      "x": {"field": "x", "type": "quantitative", "scale": {"domain": [0.5, 20.3], "range": [7, 152], "nice": false, "zero": false}, "axis": {"values": [5, 10, 15, 20], "title": null, "orient": "bottom", "offset": -48, "labelOverlap": false}},
      "y": {"datum": 0, "type": "quantitative", "scale": {"domain": [0, 2], "range": [41, 5], "nice": false, "zero": false}, "axis": {"values": [0, 1, 2], "tickCount": 20, "labelExpr": "datum.value == 1 ? '' : format(datum.value, 'd')", "title": "bits", "orient": "left", "offset": -7, "labelOverlap": false}},
      "text": {"field": "nt", "type": "nominal"},
      "size": {"field": "b", "type": "quantitative", "scale": {"type": "pow", "exponent": 0.7, "domain": [0, 1], "range": [0, 24]}, "legend": null},
      "color": {"field": "nt", "type": "nominal", "scale": {"domain": ["A","C","G","U"], "range": ["#1c8a3c","#4458b0","#f2a33a","#d9262b"]}, "legend": null}
     }},
    {"data": {"values": [{}]}, "mark": {"type": "text", "align": "right", "baseline": "middle", "fontSize": 10}, "encoding": {"x": {"datum": 20.2}, "y": {"datum": 1.4}, "text": {"value": "n=123 661"}}}
  ]},
  {"layer": [
    {"data": {"name": "logo"}, "transform": [{"filter": "datum.k == 'dsPiwi6' && datum.p == 'bot'"}], "mark": {"type": "text", "baseline": "alphabetic", "fontWeight": "bold", "font": "'Liberation Sans Narrow', 'DejaVu Sans Condensed', 'Liberation Sans'"},
     "encoding": {
      "x": {"field": "x", "type": "quantitative", "scale": {"domain": [0.5, 20.3], "range": [7, 152], "nice": false, "zero": false}, "axis": {"values": [5, 10, 15, 20], "title": "nucleotide position", "orient": "bottom", "labelOverlap": false}},
      "y": {"datum": 0, "type": "quantitative", "scale": {"domain": [0, 2], "range": [89, 52], "nice": false, "zero": false}, "axis": {"values": [0, 1, 2], "tickCount": 20, "labelExpr": "datum.value == 1 ? '' : format(datum.value, 'd')", "title": "bits", "orient": "left", "offset": -7, "labelOverlap": false}},
      "text": {"field": "nt", "type": "nominal"},
      "size": {"field": "b", "type": "quantitative", "scale": {"type": "pow", "exponent": 0.7, "domain": [0, 1], "range": [0, 24]}, "legend": null},
      "color": {"field": "nt", "type": "nominal", "scale": {"domain": ["A","C","G","U"], "range": ["#1c8a3c","#4458b0","#f2a33a","#d9262b"]}, "legend": null}
     }},
    {"data": {"values": [{}]}, "mark": {"type": "text", "align": "right", "baseline": "middle", "fontSize": 10}, "encoding": {"x": {"datum": 20.2}, "y": {"datum": 1.4}, "text": {"value": "n=12 826"}}}
  ]}
 ]
}
],
"config": {
 "font": "Liberation Sans",
 "view": {"stroke": null},
 "axis": {"labelFont": "Liberation Sans", "titleFont": "Liberation Sans", "labelFontSize": 10.5, "titleFontSize": 10.5, "titleFontWeight": "normal", "labelColor": "#1a1a1a", "titleColor": "#1a1a1a", "domainColor": "#2a2a2a", "tickColor": "#2a2a2a", "grid": false, "tickSize": 3, "labelPadding": 2, "titlePadding": 4, "labelFlush": false, "labelOverlap": false},
 "legend": {"labelFont": "Liberation Sans", "labelFontSize": 10.5, "labelColor": "#1a1a1a"},
 "title": {"font": "Liberation Sans", "fontSize": 12, "fontWeight": "bold", "anchor": "start", "frame": "group", "color": "#111111", "offset": 0},
 "text": {"font": "Liberation Sans", "color": "#111111"}
}
}
